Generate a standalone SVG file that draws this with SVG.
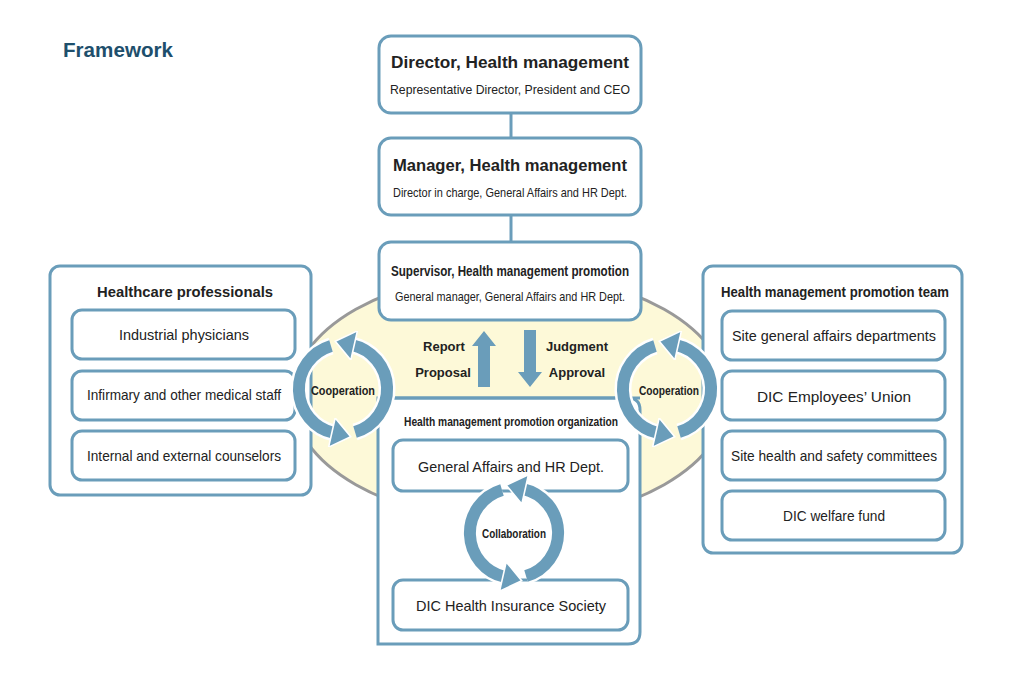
<svg xmlns="http://www.w3.org/2000/svg" width="1015" height="677" viewBox="0 0 1015 677">
<defs>
<style>
.b{fill:#fff;stroke:#6a9dba;stroke-width:3}
.t{font-family:"Liberation Sans",Arial,sans-serif;fill:#222;text-anchor:middle}
.h{font-weight:bold}
.arc{fill:none;stroke:#6a9dba;stroke-width:12}
.arcw{fill:none;stroke:#fff;stroke-width:17}
.ln{stroke:#6a9dba;stroke-width:3}
</style>
<marker id="ah" markerUnits="userSpaceOnUse" markerWidth="30" markerHeight="30" refX="2" refY="14" orient="auto" viewBox="0 0 20 28">
<path d="M0,0 L18,14 L0,28 z" fill="#6a9dba" stroke="#fff" stroke-width="1.5"/>
</marker>
</defs>
<rect width="1015" height="677" fill="#fff"/>
<text x="63" y="57" font-family="Liberation Sans,Arial,sans-serif" font-weight="bold" font-size="20" fill="#1e4f6c" textLength="110" lengthAdjust="spacingAndGlyphs">Framework</text>

<ellipse cx="510" cy="397" rx="218" ry="124" fill="#fdf9d8" stroke="#999" stroke-width="3"/>

<g id="connectors">
<line class="ln" x1="511" y1="113" x2="511" y2="138"/>
<line class="ln" x1="511" y1="215" x2="511" y2="242"/>
<path d="M478,387 V346 H472 L484,331 L496,346 H490 V387 z" fill="#6a9dba"/>
<path d="M524,330 V372 H518 L530,387 L542,372 H536 V330 z" fill="#6a9dba"/>
</g>

<g id="director"><rect class="b" x="379" y="36" width="262" height="77" rx="12"/>
<text class="t h" x="510" y="68" font-size="17" textLength="238" lengthAdjust="spacingAndGlyphs">Director, Health management</text>
<text class="t" x="510" y="94" font-size="13" textLength="240" lengthAdjust="spacingAndGlyphs">Representative Director, President and CEO</text></g>

<g id="manager"><rect class="b" x="379" y="138" width="262" height="77" rx="12"/>
<text class="t h" x="510" y="171" font-size="17" textLength="234" lengthAdjust="spacingAndGlyphs">Manager, Health management</text>
<text class="t" x="510" y="197" font-size="13" textLength="234" lengthAdjust="spacingAndGlyphs">Director in charge, General Affairs and HR Dept.</text></g>

<g id="supervisor"><rect class="b" x="379" y="242" width="262" height="78" rx="12"/>
<text class="t h" x="510" y="276" font-size="14" textLength="238" lengthAdjust="spacingAndGlyphs">Supervisor, Health management promotion</text>
<text class="t" x="510" y="301" font-size="13" textLength="230" lengthAdjust="spacingAndGlyphs">General manager, General Affairs and HR Dept.</text></g>

<g id="labels">
<text class="t h" x="444" y="351" font-size="13">Report</text>
<text class="t h" x="443" y="377" font-size="13">Proposal</text>
<text class="t h" x="577" y="351" font-size="13">Judgment</text>
<text class="t h" x="577" y="377" font-size="13">Approval</text>
</g>

<g id="org"><path class="b" d="M378,644 V398 H628 Q640,398 640,410 V632 Q640,644 628,644 z" />
<path d="M378,398 H640" class="ln"/>
<text class="t h" x="511" y="426" font-size="13" textLength="214" lengthAdjust="spacingAndGlyphs">Health management promotion organization</text></g>
<g id="ga"><rect class="b" x="393" y="440" width="235" height="51" rx="10"/>
<text class="t" x="511" y="472" font-size="15" textLength="186" lengthAdjust="spacingAndGlyphs">General Affairs and HR Dept.</text></g>
<g id="dic-his"><rect class="b" x="393" y="580" width="235" height="50" rx="10"/>
<text class="t" x="511" y="611" font-size="15" textLength="190" lengthAdjust="spacingAndGlyphs">DIC Health Insurance Society</text></g>

<g id="left-panel"><rect class="b" x="50" y="266" width="261" height="229" rx="10"/>
<text class="t h" x="185" y="297" font-size="15" textLength="176" lengthAdjust="spacingAndGlyphs">Healthcare professionals</text></g>
<g id="ip"><rect class="b" x="72" y="310" width="223" height="49" rx="10"/>
<text class="t" x="184" y="340" font-size="15" textLength="130" lengthAdjust="spacingAndGlyphs">Industrial physicians</text></g>
<g id="inf"><rect class="b" x="72" y="371" width="223" height="49" rx="10"/>
<text class="t" x="184" y="400" font-size="15" textLength="194" lengthAdjust="spacingAndGlyphs">Infirmary and other medical staff</text></g>
<g id="couns"><rect class="b" x="72" y="431" width="223" height="49" rx="10"/>
<text class="t" x="184" y="461" font-size="15" textLength="194" lengthAdjust="spacingAndGlyphs">Internal and external counselors</text></g>

<g id="right-panel"><rect class="b" x="703" y="266" width="259" height="287" rx="10"/>
<text class="t h" x="835" y="297" font-size="15" textLength="228" lengthAdjust="spacingAndGlyphs">Health management promotion team</text></g>
<g id="sgad"><rect class="b" x="722" y="311" width="223" height="49" rx="10"/>
<text class="t" x="834" y="341" font-size="15" textLength="204" lengthAdjust="spacingAndGlyphs">Site general affairs departments</text></g>
<g id="union"><rect class="b" x="722" y="371" width="223" height="49" rx="10"/>
<text class="t" x="834" y="402" font-size="15" textLength="154" lengthAdjust="spacingAndGlyphs">DIC Employees’ Union</text></g>
<g id="safety"><rect class="b" x="722" y="431" width="223" height="49" rx="10"/>
<text class="t" x="834" y="461" font-size="15" textLength="206" lengthAdjust="spacingAndGlyphs">Site health and safety committees</text></g>
<g id="welfare"><rect class="b" x="722" y="491" width="223" height="49" rx="10"/>
<text class="t" x="834" y="521" font-size="15" textLength="102" lengthAdjust="spacingAndGlyphs">DIC welfare fund</text></g>

<g id="cycles">
<g transform="translate(343,389)">
<path class="arcw" d="M-12,-43 A45,45 0 0 0 -9,44"/>
<path class="arcw" d="M12,43 A45,45 0 0 0 9,-44"/>
<path class="arc" d="M-12,-43 A45,45 0 0 0 -9,44" marker-end="url(#ah)"/>
<path class="arc" d="M12,43 A45,45 0 0 0 9,-44" marker-end="url(#ah)"/>
<text class="t h" x="0" y="6" font-size="12" textLength="64" lengthAdjust="spacingAndGlyphs">Cooperation</text>
</g>
<g transform="translate(667,389)">
<path class="arcw" d="M-12,-43 A45,45 0 0 0 -9,44"/>
<path class="arcw" d="M12,43 A45,45 0 0 0 9,-44"/>
<path class="arc" d="M-12,-43 A45,45 0 0 0 -9,44" marker-end="url(#ah)"/>
<path class="arc" d="M12,43 A45,45 0 0 0 9,-44" marker-end="url(#ah)"/>
<text class="t h" x="2" y="6" font-size="12" textLength="60" lengthAdjust="spacingAndGlyphs">Cooperation</text>
</g>
<g transform="translate(514,533)">
<path class="arcw" d="M-12,-43 A45,45 0 0 0 -9,44"/>
<path class="arcw" d="M12,43 A45,45 0 0 0 9,-44"/>
<path class="arc" d="M-12,-43 A45,45 0 0 0 -9,44" marker-end="url(#ah)"/>
<path class="arc" d="M12,43 A45,45 0 0 0 9,-44" marker-end="url(#ah)"/>
<text class="t h" x="0" y="5" font-size="12" textLength="64" lengthAdjust="spacingAndGlyphs">Collaboration</text>
</g>
</g>
</svg>
